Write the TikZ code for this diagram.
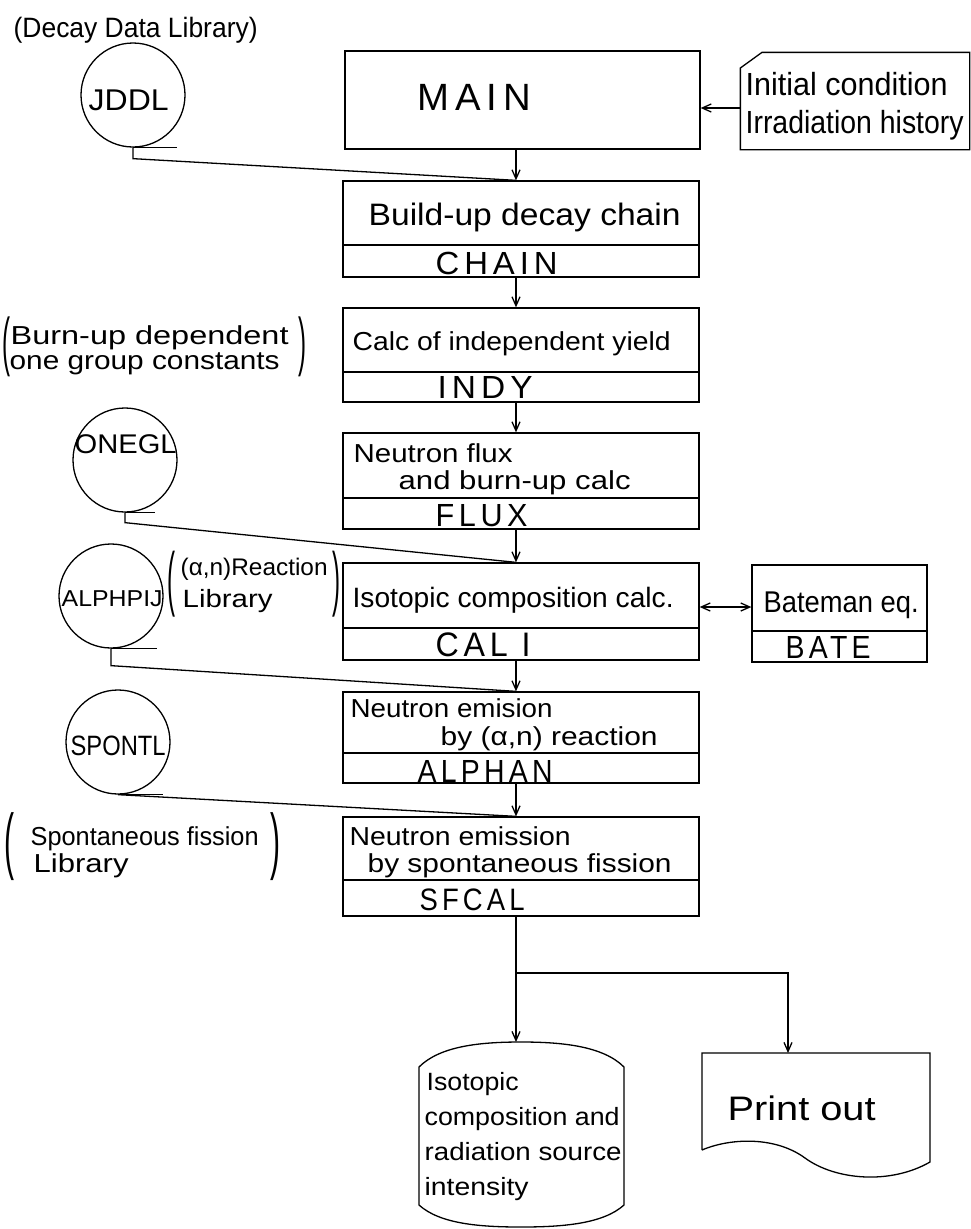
\documentclass[tikz,border=0pt]{standalone}
\usepackage{fontspec}
\setmainfont{Liberation Sans}
\newfontfamily\spfont[LetterSpace=15]{Liberation Sans}
\usetikzlibrary{arrows.meta}
\newcommand{\fw}[3]{\resizebox{#1pt}{\height}{\fontsize{#2pt}{#2pt}\selectfont #3}}
\newcommand{\fsp}[3]{\resizebox{#1pt}{\height}{\spfont\fontsize{#2pt}{#2pt}\selectfont #3}}
\newcommand{\paren}[3]{\resizebox*{#1pt}{#2pt}{\fontsize{20pt}{20pt}\selectfont #3}}
\begin{document}
\begin{tikzpicture}[x=1pt,y=-1pt,line width=1.3pt,
  box/.style={draw,rectangle,inner sep=0pt,minimum width=356pt},
  txt/.style={anchor=base west,inner sep=0pt},
  lib/.style={draw,circle,inner sep=0pt},
  pnode/.style={anchor=north west,inner sep=0pt},
  arr/.style={-{Straight Barb[length=9pt,width=8pt]}},
  darr/.style={{Straight Barb[length=9pt,width=8pt]}-{Straight Barb[length=9pt,width=8pt]}}]
\useasboundingbox (0,0) rectangle (971,1229);
\fill[white] (0,0) rectangle (971,1229);
\coordinate (colx) at (516,0);

% ---------- main column boxes ----------
\node[box,minimum width=355pt,minimum height=98pt] (main) at (522.5,100) {};
\node[box,minimum height=96pt] (chain) at (521,229) {};
\draw (chain.west |- 0,245) -- (chain.east |- 0,245);
\node[box,minimum height=94pt] (indy) at (521,355) {};
\draw (indy.west |- 0,372) -- (indy.east |- 0,372);
\node[box,minimum height=96pt] (flux) at (521,481) {};
\draw (flux.west |- 0,498) -- (flux.east |- 0,498);
\node[box,minimum height=97pt] (cali) at (521,611.5) {};
\draw (cali.west |- 0,628) -- (cali.east |- 0,628);
\node[box,minimum height=91pt] (alphan) at (521,737.5) {};
\draw (alphan.west |- 0,753) -- (alphan.east |- 0,753);
\node[box,minimum height=99pt] (sfcal) at (521,866.5) {};
\draw (sfcal.west |- 0,880) -- (sfcal.east |- 0,880);
\node[box,minimum width=175pt,minimum height=97pt] (bate) at (839.5,613.5) {};
\draw (bate.west |- 0,631) -- (bate.east |- 0,631);

% ---------- box texts ----------
\node[txt] (tmain) at (417,110) {\fsp{113}{38}{MAIN}};
\node[txt] (tchain1) at (368,225) {\fw{312}{31}{Build-up decay chain}};
\node[txt] (tchain2) at (435,274) {\fsp{122}{32}{CHAIN}};
\node[txt] (tindy1) at (352,350) {\fw{318}{26}{Calc of independent yield}};
\node[txt] (tindy2) at (437,398) {\fsp{95}{32}{INDY}};
\node[txt] (tflux1) at (353,462) {\fw{159}{26}{Neutron flux}};
\node[txt] (tflux2) at (398,489) {\fw{232}{26}{and burn-up calc}};
\node[txt] (tflux3) at (435,526) {\fsp{92}{32}{FLUX}};
\node[txt] (tcali1) at (352,607) {\fw{321}{28}{Isotopic composition calc.}};
\node[txt] (tcali2) at (435,656) {\fsp{95}{34}{CAL I}};
\node[txt] (talph1) at (350,717) {\fw{202}{26}{Neutron emision}};
\node[txt] (talph2) at (440,745) {\fw{217}{26}{by (α,n) reaction}};
\node[txt] (talph3) at (417,782) {\fsp{135}{32}{ALPHAN}};
\node[txt] (tsf1) at (349,845) {\fw{221}{26}{Neutron emission}};
\node[txt] (tsf2) at (367,872) {\fw{304}{26}{by spontaneous fission}};
\node[txt] (tsf3) at (419,910) {\fsp{105}{31}{SFCAL}};
\node[txt] (tbate1) at (763,612) {\fw{155}{30}{Bateman eq.}};
\node[txt] (tbate2) at (785,658) {\fsp{85}{32}{BATE}};

% ---------- input card ----------
\node[inner sep=0pt,minimum width=228pt,minimum height=96pt] (card) at (855,101) {};
\draw (card.south west) -- (card.west |- 0,68) -- (card.north -| 762,0) -- (card.north east) -- (card.south east) -- cycle;
\node[txt] (tcard1) at (745,95) {\fw{202}{32}{Initial condition}};
\node[txt] (tcard2) at (745,133) {\fw{218}{32}{Irradiation history}};

% ---------- libraries ----------
\node[txt] (ldecay) at (13,37) {\fw{244}{28}{(Decay Data Library)}};
\node[lib,minimum size=104pt] (jddl) at (133,95) {};
\node[txt] (tjddl) at (88,110) {\fw{80}{30}{JDDL}};

\node[pnode] (pb1) at (2,316) {\paren{8}{60}{(}};
\node[txt] (lburn1) at (10,344) {\fw{278}{26}{Burn-up dependent}};
\node[txt] (lburn2) at (9,369) {\fw{270}{26}{one group constants}};
\node[pnode] (pb2) at (298,316) {\paren{8}{60}{)}};
\node[lib,minimum size=104pt] (onegl) at (125,460) {};
\node[txt] (tonegl) at (74,453) {\fw{102}{27}{ONEGL}};

\node[lib,minimum size=104pt] (alphpij) at (111,596) {};
\node[txt] (talphpij) at (61,606) {\fw{101}{23}{ALPHPIJ}};
\node[pnode] (pa1) at (167,550) {\paren{8}{66}{(}};
\node[txt] (lan1) at (180,575) {\fw{147}{24}{(α,n)Reaction}};
\node[txt] (lan2) at (182,607) {\fw{90}{25}{Library}};
\node[pnode] (pa2) at (332,550) {\paren{8}{66}{)}};

\node[lib,minimum size=104pt] (spontl) at (118,742) {};
\node[txt] (tspontl) at (70,755) {\fw{95}{28}{SPONTL}};
\node[pnode] (ps1) at (4,812) {\paren{10}{68}{(}};
\node[txt] (lsp1) at (30,845) {\fw{228}{26}{Spontaneous fission}};
\node[txt] (lsp2) at (33,872) {\fw{95}{26}{Library}};
\node[pnode] (ps2) at (270,812) {\paren{10}{68}{)}};

% tape marks and data connectors
\draw (jddl.south) -- ++(44,0);
\draw (jddl.south) -- ++(0,11) -- (chain.north -| colx);
\draw (onegl.south) -- ++(30,0);
\draw (onegl.south) -- ++(0,10) -- (cali.north -| colx);
\draw (alphpij.south) -- ++(46,0);
\draw (alphpij.south) -- ++(0,17) -- (alphan.north -| colx);
\draw (spontl.south) -- ++(45,0);
\draw (spontl.south) -- (sfcal.north -| colx);

% ---------- flow arrows ----------
\draw[arr] (card.west |- 0,108) -- (main.east |- 0,108);
\draw[arr] (main.south -| colx) -- (chain.north -| colx);
\draw[arr] (chain.south -| colx) -- (indy.north -| colx);
\draw[arr] (indy.south -| colx) -- (flux.north -| colx);
\draw[arr] (flux.south -| colx) -- (cali.north -| colx);
\draw[arr] (cali.south -| colx) -- (alphan.north -| colx);
\draw[arr] (alphan.south -| colx) -- (sfcal.north -| colx);
\draw[darr] (cali.east |- 0,607) -- (bate.west |- 0,607);

% ---------- outputs ----------
\draw (419,1067) .. controls (440,1046) and (480,1042) .. (521,1042) .. controls (562,1042) and (603,1046) .. (624,1067)
  -- (624,1205) .. controls (603,1224) and (562,1227) .. (521,1227) .. controls (480,1227) and (440,1224) .. (419,1205) -- cycle;
\coordinate (storetop) at (516,1042);
\node[txt] (tst1) at (426,1090) {\fw{92}{25}{Isotopic}};
\node[txt] (tst2) at (424,1125) {\fw{195}{25}{composition and}};
\node[txt] (tst3) at (424,1160) {\fw{197}{25}{radiation source}};
\node[txt] (tst4) at (424,1195) {\fw{104}{25}{intensity}};

\draw (702,1150) -- (702,1053) -- (930,1053) -- (930,1162) .. controls (890,1185) and (835,1180) .. (805,1158) .. controls (775,1136) and (730,1138) .. (702,1150);
\coordinate (printtop) at (788,1053);
\node[txt] (tprint) at (727,1120) {\fw{148}{34}{Print out}};

\coordinate (br) at (516,973);
\draw[arr] (sfcal.south -| colx) -- (storetop);
\draw[arr] (br) -| (printtop);
\end{tikzpicture}
\end{document}
